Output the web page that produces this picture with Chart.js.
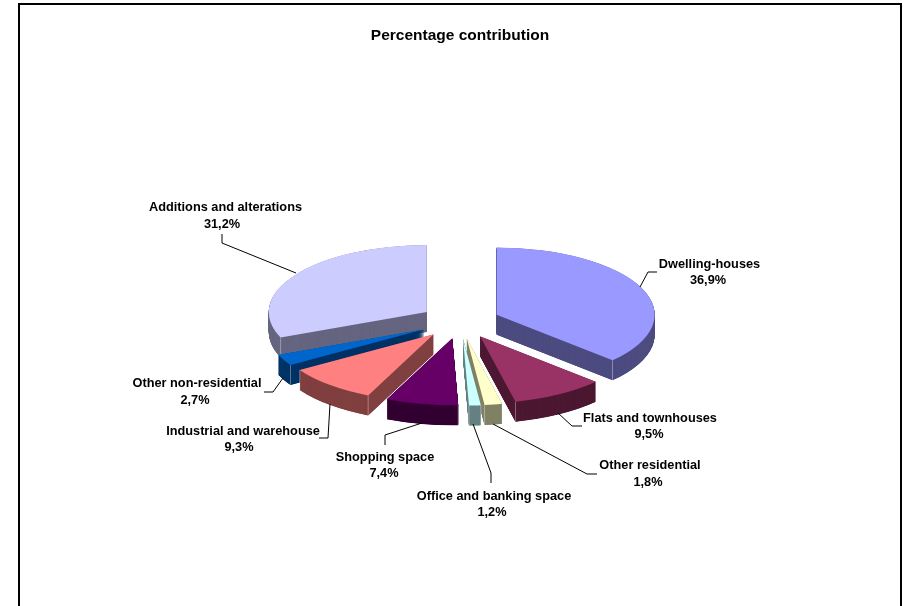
<!DOCTYPE html>
<html><head><meta charset="utf-8">
<style>html,body{margin:0;padding:0;background:#fff}canvas{display:block}</style>
<script src="https://cdn.jsdelivr.net/npm/chart.js@4"></script>
</head><body>
<canvas id="c" width="905" height="606"></canvas>
<script>
const categories = ["Dwelling-houses","Flats and townhouses","Other residential","Office and banking space","Shopping space","Industrial and warehouse","Other non-residential","Additions and alterations"];
const shares = [36.9,9.5,1.8,1.2,7.4,9.3,2.7,31.2];
const topColours = ["#9999FF","#993366","#FFFFCC","#CCFFFF","#660066","#FF8080","#0066CC","#CCCCFF"];
const wallColours = ["#4D4D80","#4D1933","#808066","#668080","#330033","#804040","#003366","#666680"];
const chartTitle = "Percentage contribution";

// 3D projection settings
const pieCentre = {x:460, y:321.5}, tilt = 0.425, depth = 20, explode = 40, pieRadius = 158;
// label layout: text centre of name, of value, clip edge, leader polyline
const labelLayout = [
  {nx:709.5,ny:264.5,vx:708,vy:280.5,line:[[640,287],[648,272],[657,272]]},
  {nx:650,ny:418.5,vx:649,vy:434.5,line:[[558,413],[572,426],[582,426]]},
  {nx:650,ny:465.5,vx:648,vy:482.5,line:[[493,424],[587,474],[597,474]]},
  {nx:494,ny:496.5,vx:492,vy:512.5,clip:571,line:[[473,424],[491,473],[491,483]]},
  {nx:385,ny:457.5,vx:384,vy:473.5,line:[[422,423],[385,435],[385,445]]},
  {nx:243,ny:431.5,vx:239,vy:447.5,line:[[330,404],[328,438],[319,438]]},
  {nx:197,ny:383.5,vx:195,vy:400.5,line:[[283,378],[273,392],[264,392]]},
  {nx:225.5,ny:207.5,vx:222,vy:224.5,line:[[296,273],[222,243],[222,234]]}
];
const labelFont = "bold 12.75px 'Liberation Sans', Arial, sans-serif";

const pie3d = {
  id:'pie3d',
  beforeDraw(chart){
    const c = chart.ctx;
    c.save();
    c.fillStyle = '#fff'; c.fillRect(0,0,chart.width,chart.height);
    c.fillStyle = '#000';
    c.fillRect(18,3,884,2); c.fillRect(18,3,2,603); c.fillRect(900,3,2,603);
    c.restore();
  },
  beforeDatasetDraw(chart,args){
    const c = chart.ctx, arcs = chart.getDatasetMeta(args.index).data;
    const place = (arc,dy)=>{
      const mid = (arc.startAngle+arc.endAngle)/2;
      c.translate(pieCentre.x, pieCentre.y+dy);
      c.scale(1,tilt);
      c.translate(Math.cos(mid)*explode - arc.x, Math.sin(mid)*explode - arc.y);
    };
    const offsetY = a => Math.sin((a.startAngle+a.endAngle)/2);
    const order = arcs.map((a,i)=>i).sort((p,q)=>offsetY(arcs[p])-offsetY(arcs[q]));
    order.forEach(i=>{
      const arc = arcs[i];
      const wall = Object.create(arc);
      wall.options = Object.assign({},arc.options,{backgroundColor:wallColours[i],borderWidth:0});
      for(let dy=depth;dy>0;dy-=0.25){
        c.save(); place(arc,dy); wall.draw(c); c.restore();
      }
      // pale corner edges of the rim, only where the rim faces the viewer
      const mid = (arc.startAngle+arc.endAngle)/2;
      [arc.startAngle,arc.endAngle].forEach(a=>{
        if(Math.sin(a)<=0) return;
        const x = pieCentre.x+Math.cos(mid)*explode+Math.cos(a)*arc.outerRadius;
        const y = pieCentre.y+(Math.sin(mid)*explode+Math.sin(a)*arc.outerRadius)*tilt;
        c.save(); c.strokeStyle='rgba(255,255,255,0.35)'; c.lineWidth=1;
        c.beginPath(); c.moveTo(x,y); c.lineTo(x,y+depth); c.stroke(); c.restore();
      });
      const top = Object.create(arc);
      top.options = Object.assign({},arc.options,{borderWidth:0});
      c.save(); place(arc,0); top.draw(c); c.restore();
    });
    return false;
  },
  afterDraw(chart){
    const c = chart.ctx;
    c.save();
    c.font = labelFont; c.fillStyle='#000'; c.strokeStyle='#000'; c.lineWidth=1;
    c.textAlign='center'; c.textBaseline='middle';
    labelLayout.forEach((l,i)=>{
      c.beginPath();
      l.line.forEach((p,j)=> j? c.lineTo(p[0],p[1]) : c.moveTo(p[0],p[1]));
      c.stroke();
      c.save();
      if(l.clip){ c.beginPath(); c.rect(0,0,l.clip,chart.height); c.clip(); }
      c.fillText(categories[i],l.nx,l.ny);
      c.restore();
      c.fillText(shares[i].toFixed(1).replace('.',',')+'%',l.vx,l.vy);
    });
    c.restore();
  }
};

new Chart(document.getElementById('c'),{
  type:'pie',
  data:{labels:categories,datasets:[{data:shares,backgroundColor:topColours,borderWidth:0}]},
  options:{
    responsive:false,animation:false,
    radius:pieRadius,
    layout:{padding:{left:15}},
    plugins:{
      legend:{display:false},tooltip:{enabled:false},
      title:{display:true,text:chartTitle,color:'#000',padding:{top:26,bottom:10},
        font:{family:"'Liberation Sans', Arial, sans-serif",size:15.5,weight:'bold'}}
    }
  },
  plugins:[pie3d]
});
</script>
</body></html>
